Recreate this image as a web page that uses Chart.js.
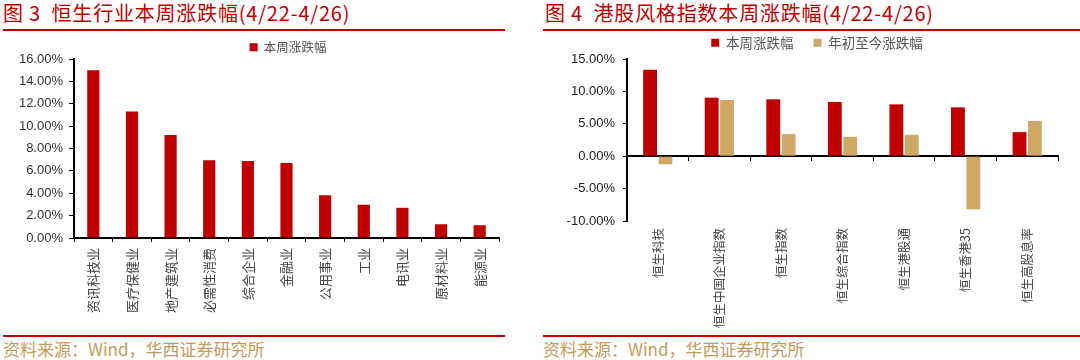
<!DOCTYPE html>
<html>
<head>
<meta charset="utf-8">
<script src="https://cdn.jsdelivr.net/npm/chart.js@4.4.1/dist/chart.umd.min.js"></script>
<style>
  html, body { margin: 0; padding: 0; background: #fff; }
  #wrap { position: relative; width: 1080px; height: 360px; background: #fff; overflow: hidden; }
  .title { position: absolute; top: 0; font: 20px/26px 'Noto Sans CJK SC', sans-serif; color: #C00000; white-space: pre; letter-spacing: 0.8px; }
  .rule { position: absolute; height: 2px; background: #C00000; }
  .src { position: absolute; top: 338px; font: 17px/22px 'Noto Sans CJK SC', sans-serif; color: #C49A5A; white-space: nowrap; }
  canvas { position: absolute; top: 0; }
</style>
</head>
<body>
<div id="wrap">
  <div class="title" style="left:3px">图 3  恒生行业本周涨跌幅(4/22-4/26)</div>
  <div class="title" style="left:545px">图 4  港股风格指数本周涨跌幅(4/22-4/26)</div>
  <div class="rule" style="left:3px;width:502px;top:29px"></div>
  <div class="rule" style="left:543px;width:537px;top:29px"></div>
  <div class="rule" style="left:3px;width:502px;top:335px"></div>
  <div class="rule" style="left:543px;width:537px;top:335px"></div>
  <div class="src" style="left:3px">资料来源：Wind，华西证券研究所</div>
  <div class="src" style="left:543px">资料来源：Wind，华西证券研究所</div>
  <canvas id="c1" width="540" height="330" style="left:0px"></canvas>
  <canvas id="c2" width="540" height="330" style="left:540px"></canvas>
</div>
<script>
// ---- data ----
const industryCategories = ['资讯科技业','医疗保健业','地产建筑业','必需性消费','综合企业','金融业','公用事业','工业','电讯业','原材料业','能源业'];
const industryWeekly = [15.0, 11.3, 9.2, 6.95, 6.88, 6.7, 3.82, 2.97, 2.7, 1.23, 1.14];
const industrySeriesName = '本周涨跌幅';
const industryTicks = [0, 2, 4, 6, 8, 10, 12, 14, 16];

const styleCategories = ['恒生科技','恒生中国企业指数','恒生指数','恒生综合指数','恒生港股通','恒生香港35','恒生高股息率'];
const styleWeekly = [13.33, 9.04, 8.78, 8.37, 8.0, 7.54, 3.72];
const styleYTD = [-1.24, 8.68, 3.41, 2.99, 3.30, -8.2, 5.43];
const styleSeriesNames = ['本周涨跌幅', '年初至今涨跌幅'];
const styleTicks = [-10, -5, 0, 5, 10, 15];

// ---- styling ----
const RED = '#C00000';
const TAN = '#D0A866';
const FONT = "'Liberation Sans', 'Noto Sans CJK SC', sans-serif";
const CJK = "'Noto Sans CJK SC', sans-serif";
Chart.defaults.font.family = FONT;
Chart.defaults.animation = false;

const legendShift = {
  id: 'legendShift',
  afterLayout(chart, args, opts) {
    const l = chart.legend;
    if (l && opts && opts.dx) { l.left += opts.dx; l.right += opts.dx; }
  }
};
const pct = v => v.toFixed(2) + '%';

// ---- left chart ----
new Chart(document.getElementById('c1'), {
  type: 'bar',
  data: {
    labels: industryCategories,
    datasets: [{
      label: industrySeriesName,
      data: industryWeekly,
      backgroundColor: RED,
      borderWidth: 0,
      categoryPercentage: 0.35,
      barPercentage: 0.9
    }]
  },
  plugins: [legendShift],
  options: {
    responsive: false,
    devicePixelRatio: 1,
    layout: { padding: { top: 31, right: 41, left: 0, bottom: 2 } },
    plugins: {
      legendShift: { dx: 38.5 },
      tooltip: { enabled: false },
      legend: {
        display: true,
        position: 'top',
        maxHeight: 28,
        labels: { boxWidth: 8, boxHeight: 8, padding: 10, color: '#555', font: { family: CJK, size: 12.5 } }
      }
    },
    scales: {
      x: {
        grid: { display: true, drawOnChartArea: false, drawTicks: true, tickLength: 4, tickColor: '#000', offset: true },
        border: { display: true, color: '#000', width: 2 },
        ticks: { autoSkip: false, maxRotation: 90, minRotation: 90, padding: 6, color: '#444', font: { family: CJK, size: 13 } },
        afterFit(s) { s.height = 90; }
      },
      y: {
        min: 0, max: 16,
        afterBuildTicks(s) { s.ticks = industryTicks.map(v => ({ value: v })); },
        grid: { display: true, drawOnChartArea: false, drawTicks: true, tickLength: 5, tickColor: '#000' },
        border: { display: true, color: '#000', width: 2 },
        ticks: { padding: 6, color: '#333', font: { size: 13 }, callback: v => pct(v) },
        afterFit(s) { s.width = 74; }
      }
    }
  }
});

// ---- right chart ----
new Chart(document.getElementById('c2'), {
  type: 'bar',
  data: {
    labels: styleCategories,
    datasets: [
      { label: styleSeriesNames[0], data: styleWeekly, backgroundColor: RED, borderWidth: 0, categoryPercentage: 0.5, barPercentage: 0.9 },
      { label: styleSeriesNames[1], data: styleYTD, backgroundColor: TAN, borderWidth: 0, categoryPercentage: 0.5, barPercentage: 0.9 }
    ]
  },
  plugins: [legendShift],
  options: {
    responsive: false,
    devicePixelRatio: 1,
    layout: { padding: { top: 16, right: 22, left: 0, bottom: 0 } },
    plugins: {
      legendShift: { dx: 18 },
      tooltip: { enabled: false },
      legend: {
        display: true,
        position: 'top',
        maxHeight: 43,
        labels: { boxWidth: 8, boxHeight: 8, padding: 20, color: '#555', font: { family: CJK, size: 13.5 } }
      }
    },
    scales: {
      x: {
        position: { y: 0 },
        grid: { display: true, drawOnChartArea: false, drawTicks: true, tickLength: 4, tickColor: '#000', offset: true },
        border: { display: true, color: '#000', width: 2 },
        ticks: { display: false }
      },
      x2: {
        type: 'category',
        position: 'bottom',
        offset: true,
        grid: { display: false, drawTicks: false },
        border: { display: false },
        ticks: { autoSkip: false, maxRotation: 90, minRotation: 90, padding: 7, color: '#444', font: { family: CJK, size: 12.5 } },
        afterFit(s) { s.height = 109; }
      },
      y: {
        min: -10, max: 15,
        afterBuildTicks(s) { s.ticks = styleTicks.map(v => ({ value: v })); },
        grid: { display: true, drawOnChartArea: false, drawTicks: true, tickLength: 4, tickColor: '#000' },
        border: { display: true, color: '#000', width: 2 },
        ticks: { padding: 8, color: '#222', font: { size: 13 }, callback: v => pct(v) },
        afterFit(s) { s.width = 87; }
      }
    }
  }
});
</script>
</body>
</html>
